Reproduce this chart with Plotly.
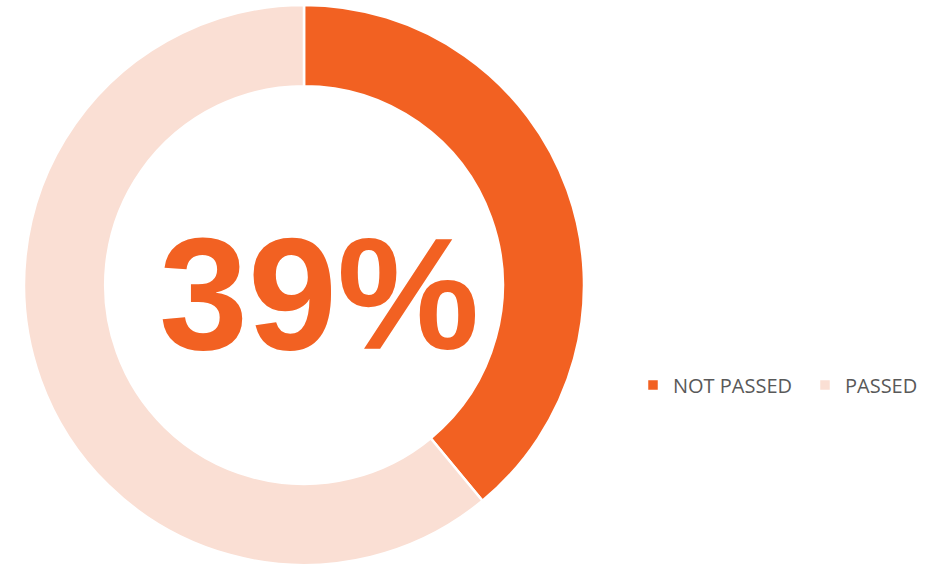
import plotly.graph_objects as go

labels = ["NOT PASSED", "PASSED"]
values = [39, 61]
colors = ["#F26122", "#FADFD4"]

W, H = 935, 565
top_margin = 5
plot_h = H - top_margin

share = values[0] / sum(values)

fig = go.Figure(
    go.Pie(
        labels=labels,
        values=values,
        hole=0.71,
        sort=False,
        direction="clockwise",
        rotation=0,
        textinfo="none",
        hoverinfo="label+percent",
        marker=dict(colors=colors, line=dict(color="white", width=2.5)),
        domain=dict(x=[24 / W, 584 / W], y=[0, 1]),
    )
)

fig.add_annotation(
    text=f"<b>{share:.0%}</b>",
    x=319 / W,
    y=(H - 293) / plot_h,
    xref="paper",
    yref="paper",
    showarrow=False,
    font=dict(family="Liberation Sans, Arial, sans-serif", size=160, color=colors[0]),
    xanchor="center",
    yanchor="middle",
)

fig.update_layout(
    width=W,
    height=H,
    margin=dict(l=0, r=0, t=top_margin, b=0, autoexpand=False),
    paper_bgcolor="white",
    plot_bgcolor="white",
    showlegend=True,
    legend=dict(
        orientation="h",
        x=633 / W,
        y=(H - 385) / plot_h,
        xanchor="left",
        yanchor="middle",
        font=dict(family="Open Sans, Noto Sans, sans-serif", size=20, color="#595959"),
        itemwidth=30,
        entrywidth=127,
        entrywidthmode="pixels",
        tracegroupgap=0,
    ),
)

fig.write_html("out.html")
